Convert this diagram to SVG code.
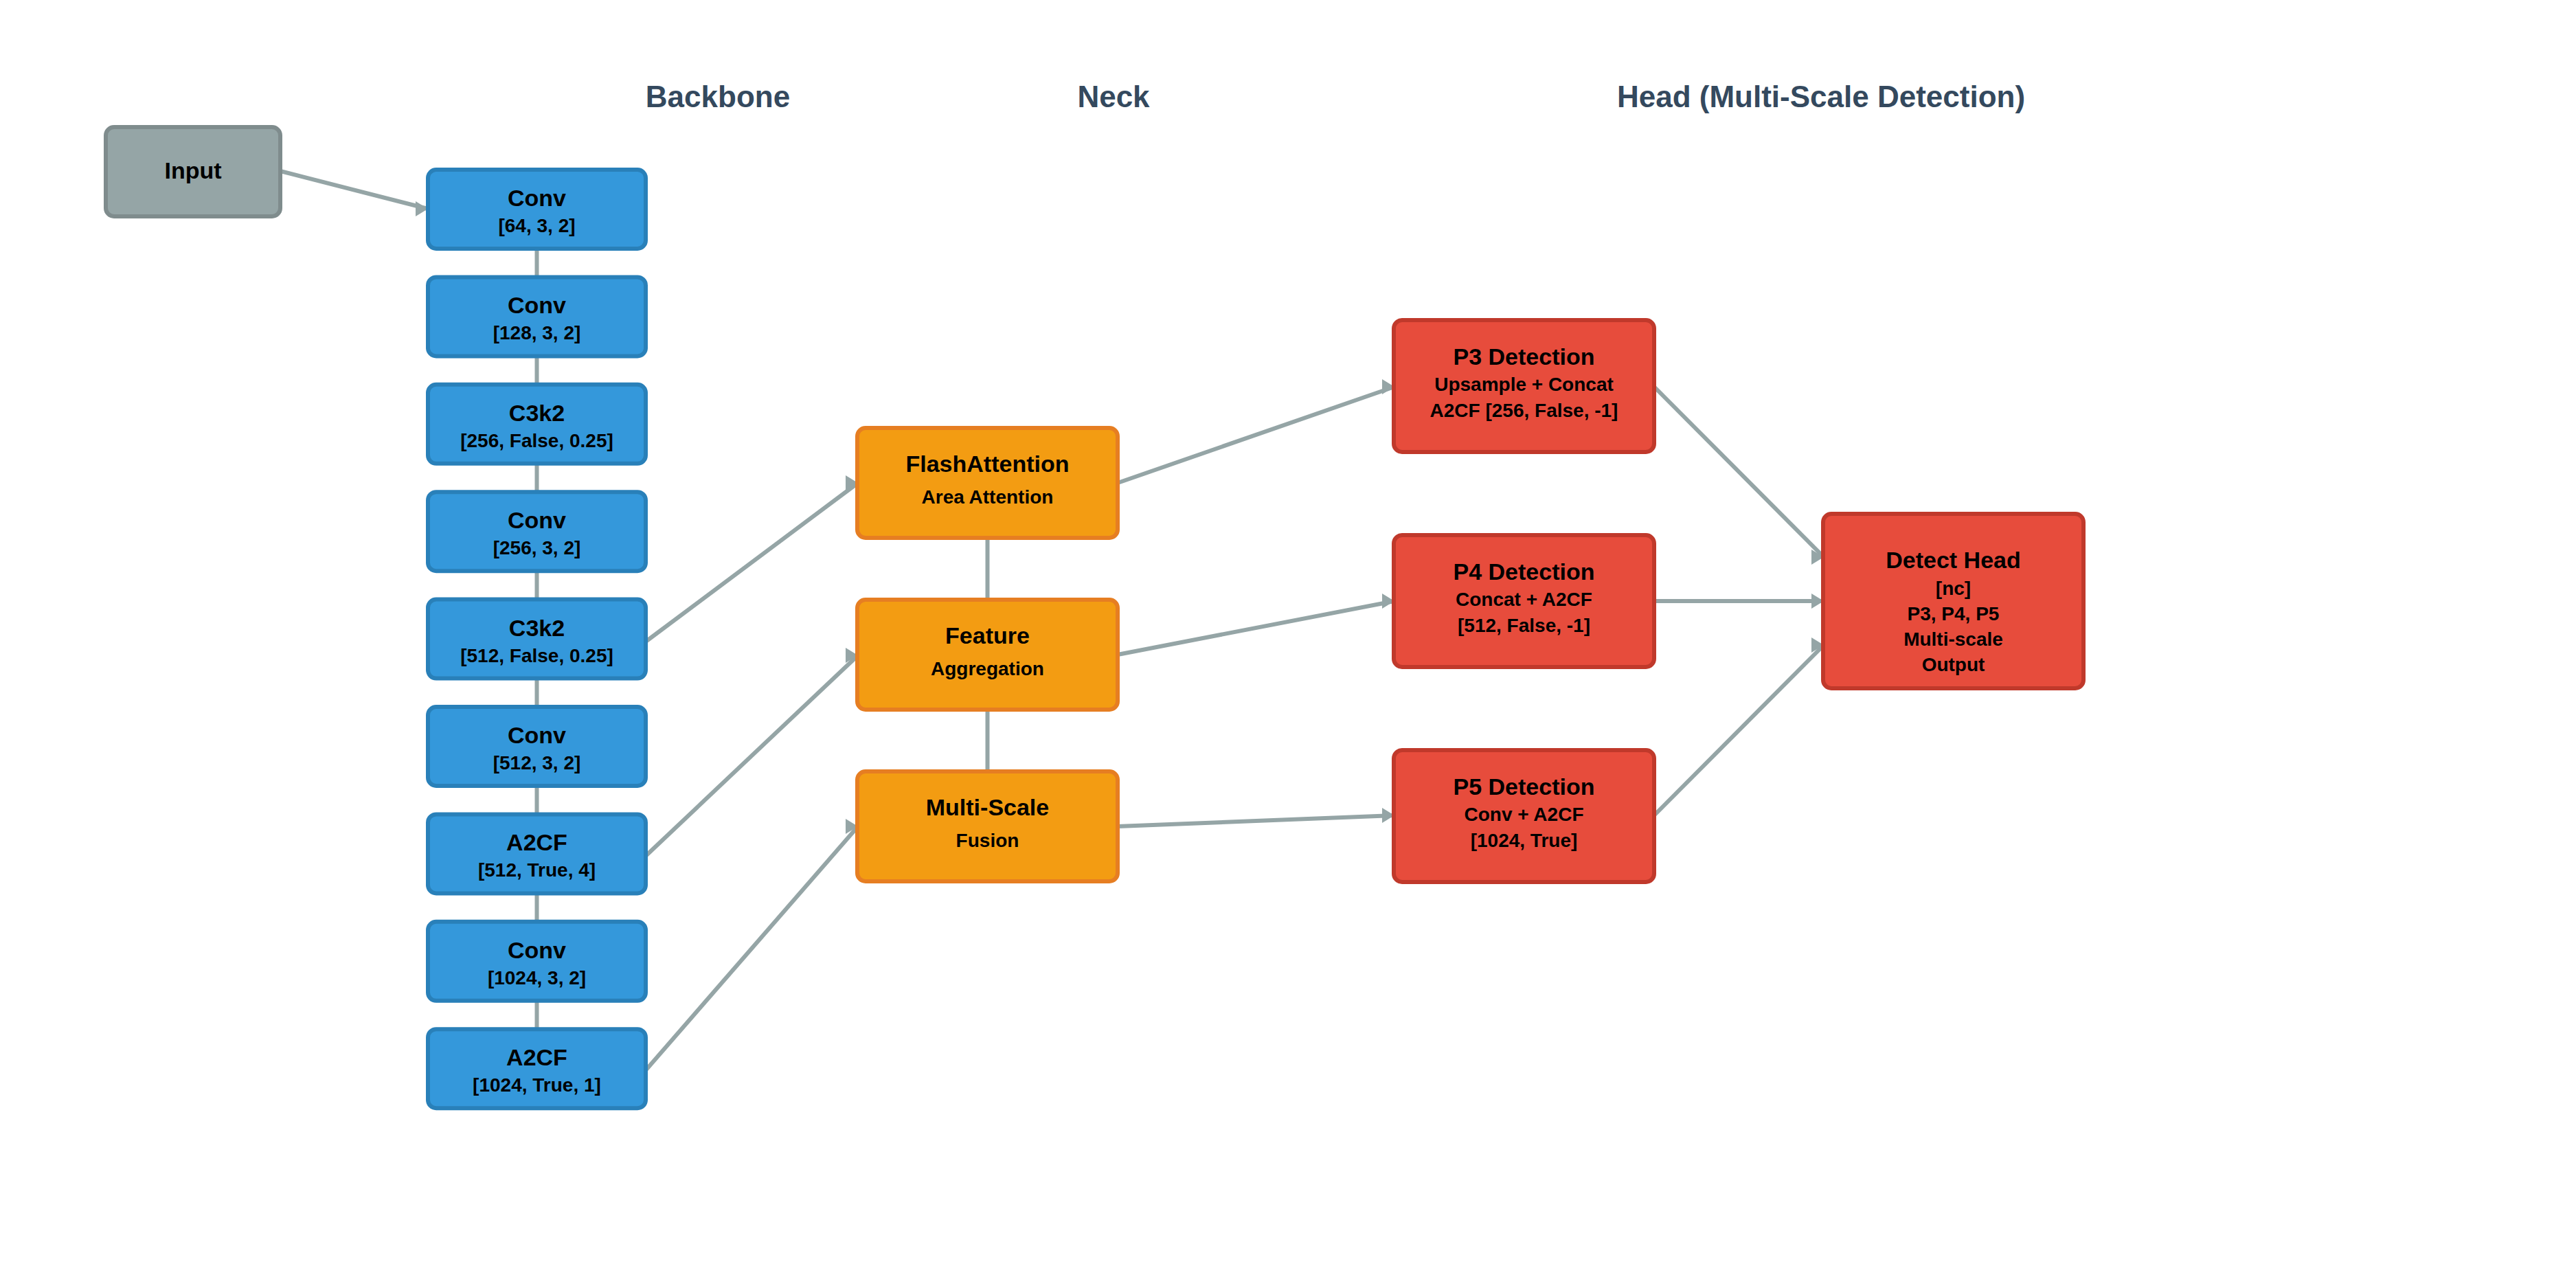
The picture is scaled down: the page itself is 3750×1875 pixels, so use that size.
<svg xmlns="http://www.w3.org/2000/svg" width="3750" height="1875" viewBox="0 0 3750 1875">
  <defs>
    <style>
      .t { font-family: "Liberation Sans", Arial, Helvetica, sans-serif; font-weight: bold; fill: #000; text-anchor: middle; }
      .ti { font-size: 34px; }
      .st { font-size: 28px; }
      .hdr { font-family: "Liberation Sans", Arial, Helvetica, sans-serif; font-weight: bold; font-size: 44px; fill: #34495e; text-anchor: middle; }
      .blue { fill: #3498db; stroke: #2980b9; stroke-width: 6; }
      .orange { fill: #f39c12; stroke: #e67e22; stroke-width: 6; }
      .red { fill: #e74c3c; stroke: #c0392b; stroke-width: 6; }
      .gray { fill: #95a5a6; stroke: #7f8c8d; stroke-width: 6; }
      .ln { stroke: #95a5a6; stroke-width: 6; fill: none; }
      .ar { stroke: #95a5a6; stroke-width: 6; fill: none; marker-end: url(#ah); }
    </style>
    <marker id="ah" markerUnits="userSpaceOnUse" markerWidth="20" markerHeight="22" refX="18" refY="11" orient="0">
      <path d="M0,0 L18,11 L0,22 z" fill="#95a5a6"/>
    </marker>
  </defs>
  <rect width="3750" height="1875" fill="#ffffff"/>

  <g id="headers">
    <text class="hdr" x="1045" y="156">Backbone</text>
    <text class="hdr" x="1621" y="156">Neck</text>
    <text class="hdr" x="2651" y="156">Head (Multi-Scale Detection)</text>
  </g>

  <g id="connectors">
    <line class="ar" x1="408" y1="249" x2="623" y2="304"/>
    <line class="ln" x1="781.5" y1="362" x2="781.5" y2="403.4"/>
    <line class="ln" x1="781.5" y1="518.4" x2="781.5" y2="559.8"/>
    <line class="ln" x1="781.5" y1="674.8" x2="781.5" y2="716.2"/>
    <line class="ln" x1="781.5" y1="831.2" x2="781.5" y2="872.6"/>
    <line class="ln" x1="781.5" y1="987.6" x2="781.5" y2="1029"/>
    <line class="ln" x1="781.5" y1="1144" x2="781.5" y2="1185.4"/>
    <line class="ln" x1="781.5" y1="1300.4" x2="781.5" y2="1341.8"/>
    <line class="ln" x1="781.5" y1="1456.8" x2="781.5" y2="1498.2"/>
    <line class="ar" x1="940" y1="934" x2="1249" y2="703"/>
    <line class="ar" x1="940" y1="1246" x2="1249" y2="954"/>
    <line class="ar" x1="940" y1="1558" x2="1249" y2="1203"/>
    <line class="ln" x1="1437.5" y1="783" x2="1437.5" y2="873"/>
    <line class="ln" x1="1437.5" y1="1033" x2="1437.5" y2="1123"/>
    <line class="ar" x1="1627" y1="703" x2="2030" y2="563"/>
    <line class="ar" x1="1627" y1="953" x2="2030" y2="875"/>
    <line class="ar" x1="1627" y1="1203" x2="2030" y2="1187"/>
    <line class="ar" x1="2408" y1="563" x2="2655" y2="811"/>
    <line class="ar" x1="2408" y1="875" x2="2655" y2="875"/>
    <line class="ar" x1="2408" y1="1187" x2="2655" y2="939"/>
  </g>

  <g id="input">
    <rect class="gray" x="154" y="185" width="254" height="130" rx="12"/>
    <text class="t ti" x="281" y="260">Input</text>
  </g>

  <g id="bb1">
    <rect class="blue" x="623" y="247" width="317" height="115" rx="12"/>
    <text class="t ti" x="781.5" y="300">Conv</text>
    <text class="t st" x="781.5" y="338">[64, 3, 2]</text>
  </g>
  <g id="bb2">
    <rect class="blue" x="623" y="403.4" width="317" height="115" rx="12"/>
    <text class="t ti" x="781.5" y="456.4">Conv</text>
    <text class="t st" x="781.5" y="494.4">[128, 3, 2]</text>
  </g>
  <g id="bb3">
    <rect class="blue" x="623" y="559.8" width="317" height="115" rx="12"/>
    <text class="t ti" x="781.5" y="612.8">C3k2</text>
    <text class="t st" x="781.5" y="650.8">[256, False, 0.25]</text>
  </g>
  <g id="bb4">
    <rect class="blue" x="623" y="716.2" width="317" height="115" rx="12"/>
    <text class="t ti" x="781.5" y="769.2">Conv</text>
    <text class="t st" x="781.5" y="807.2">[256, 3, 2]</text>
  </g>
  <g id="bb5">
    <rect class="blue" x="623" y="872.6" width="317" height="115" rx="12"/>
    <text class="t ti" x="781.5" y="925.6">C3k2</text>
    <text class="t st" x="781.5" y="963.6">[512, False, 0.25]</text>
  </g>
  <g id="bb6">
    <rect class="blue" x="623" y="1029" width="317" height="115" rx="12"/>
    <text class="t ti" x="781.5" y="1082">Conv</text>
    <text class="t st" x="781.5" y="1120">[512, 3, 2]</text>
  </g>
  <g id="bb7">
    <rect class="blue" x="623" y="1185.4" width="317" height="115" rx="12"/>
    <text class="t ti" x="781.5" y="1238.4">A2CF</text>
    <text class="t st" x="781.5" y="1276.4">[512, True, 4]</text>
  </g>
  <g id="bb8">
    <rect class="blue" x="623" y="1341.8" width="317" height="115" rx="12"/>
    <text class="t ti" x="781.5" y="1394.8">Conv</text>
    <text class="t st" x="781.5" y="1432.8">[1024, 3, 2]</text>
  </g>
  <g id="bb9">
    <rect class="blue" x="623" y="1498.2" width="317" height="115" rx="12"/>
    <text class="t ti" x="781.5" y="1551.2">A2CF</text>
    <text class="t st" x="781.5" y="1589.2">[1024, True, 1]</text>
  </g>

  <g id="neck1">
    <rect class="orange" x="1248" y="623" width="379" height="160" rx="12"/>
    <text class="t ti" x="1437.5" y="687">FlashAttention</text>
    <text class="t st" x="1437.5" y="733">Area Attention</text>
  </g>
  <g id="neck2">
    <rect class="orange" x="1248" y="873" width="379" height="160" rx="12"/>
    <text class="t ti" x="1437.5" y="937">Feature</text>
    <text class="t st" x="1437.5" y="983">Aggregation</text>
  </g>
  <g id="neck3">
    <rect class="orange" x="1248" y="1123" width="379" height="160" rx="12"/>
    <text class="t ti" x="1437.5" y="1187">Multi-Scale</text>
    <text class="t st" x="1437.5" y="1233">Fusion</text>
  </g>

  <g id="p3">
    <rect class="red" x="2029" y="466" width="379" height="192" rx="12"/>
    <text class="t ti" x="2218.5" y="531">P3 Detection</text>
    <text class="t st" x="2218.5" y="569">Upsample + Concat</text>
    <text class="t st" x="2218.5" y="607">A2CF [256, False, -1]</text>
  </g>
  <g id="p4">
    <rect class="red" x="2029" y="779" width="379" height="192" rx="12"/>
    <text class="t ti" x="2218.5" y="844">P4 Detection</text>
    <text class="t st" x="2218.5" y="882">Concat + A2CF</text>
    <text class="t st" x="2218.5" y="920">[512, False, -1]</text>
  </g>
  <g id="p5">
    <rect class="red" x="2029" y="1092" width="379" height="192" rx="12"/>
    <text class="t ti" x="2218.5" y="1157">P5 Detection</text>
    <text class="t st" x="2218.5" y="1195">Conv + A2CF</text>
    <text class="t st" x="2218.5" y="1233">[1024, True]</text>
  </g>

  <g id="detect">
    <rect class="red" x="2654" y="748" width="379" height="254" rx="12"/>
    <text class="t ti" x="2843.5" y="827">Detect Head</text>
    <text class="t st" x="2843.5" y="866">[nc]</text>
    <text class="t st" x="2843.5" y="903">P3, P4, P5</text>
    <text class="t st" x="2843.5" y="940">Multi-scale</text>
    <text class="t st" x="2843.5" y="977">Output</text>
  </g>
</svg>
